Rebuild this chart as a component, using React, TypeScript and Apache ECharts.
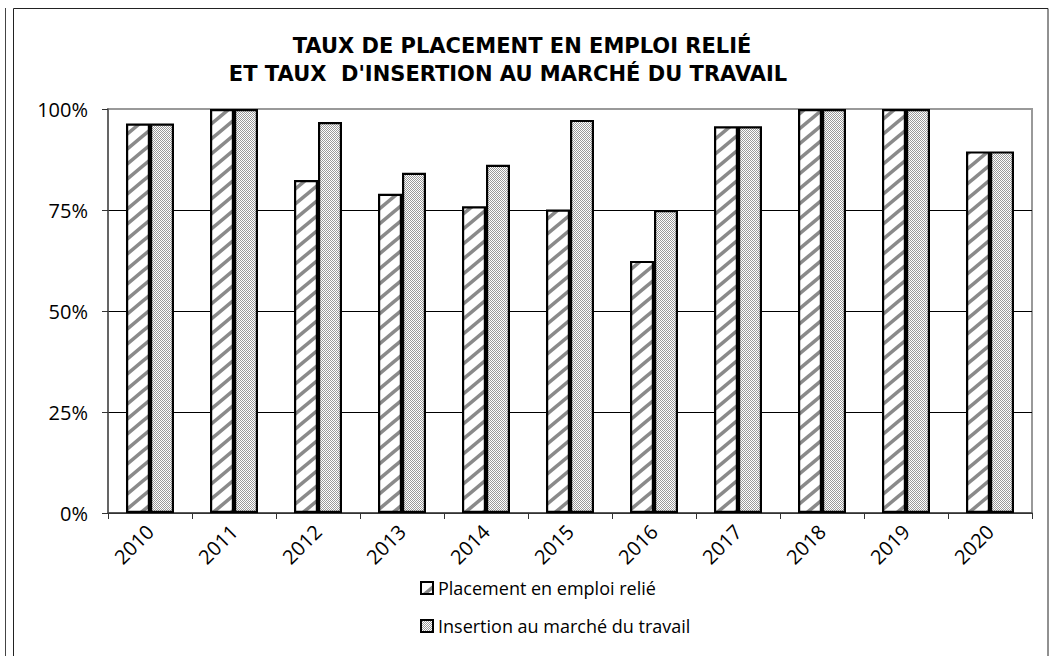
import React, { useEffect, useRef } from "react";
import * as echarts from "echarts";

const categories = ["2010", "2011", "2012", "2013", "2014", "2015", "2016", "2017", "2018", "2019", "2020"];
const placementValues = [96.4, 100, 82.4, 79.0, 75.9, 75.1, 62.4, 95.7, 100, 100, 89.5];
const insertionValues = [96.4, 100, 96.8, 84.2, 86.2, 97.3, 75.0, 95.7, 100, 100, 89.5];
const yTicks = [0, 25, 50, 75, 100];
const seriesNames = ["Placement en emploi relié", "Insertion au marché du travail"];
const titleLines = ["TAUX DE PLACEMENT EN EMPLOI RELIÉ", "ET TAUX  D'INSERTION AU MARCHÉ DU TRAVAIL"];

function makeStripeTile() {
  const W = 18;
  const H = 15;
  const c = document.createElement("canvas");
  c.width = W;
  c.height = H;
  const ctx = c.getContext("2d")!;
  ctx.fillStyle = "#ffffff";
  ctx.fillRect(0, 0, W, H);
  ctx.strokeStyle = "#8a8a8a";
  ctx.lineWidth = 3.6;
  for (let k = -1; k <= 1; k++) {
    const x0 = -6;
    const x1 = W + 6;
    ctx.beginPath();
    ctx.moveTo(x0, H - (H / W) * x0 + k * H);
    ctx.lineTo(x1, H - (H / W) * x1 + k * H);
    ctx.stroke();
  }
  return c;
}

function makeCheckerTile() {
  const c = document.createElement("canvas");
  c.width = 2;
  c.height = 2;
  const ctx = c.getContext("2d")!;
  ctx.fillStyle = "#ffffff";
  ctx.fillRect(0, 0, 2, 2);
  ctx.fillStyle = "#9a9a9a";
  ctx.fillRect(0, 0, 1, 1);
  ctx.fillRect(1, 1, 1, 1);
  return c;
}

export default function App() {
  const ref = useRef<HTMLDivElement>(null);
  useEffect(() => {
    if (!ref.current) return;
    const chart = echarts.init(ref.current, null, { renderer: "svg" });
    const stripe = makeStripeTile();
    const checker = makeCheckerTile();
    const font = "'Open Sans', sans-serif";
    const titleStyle = {
      fontFamily: "'DejaVu Sans', sans-serif",
      fontWeight: "bold",
      fontSize: 21,
      color: "#000",
    };
    chart.setOption({
      animation: false,
      backgroundColor: "#ffffff",
      title: [
        { text: titleLines[0], left: 517, textAlign: "center", top: 30, textStyle: titleStyle },
        { text: titleLines[1], left: 503, textAlign: "center", top: 58, textStyle: titleStyle },
      ],
      legend: {
        orient: "vertical",
        left: 415,
        top: 574,
        itemWidth: 12,
        itemHeight: 12,
        itemGap: 20,
        icon: "rect",
        textStyle: { fontFamily: font, fontSize: 18, color: "#000" },
        data: seriesNames,
      },
      grid: {
        left: 108,
        top: 109,
        right: 25,
        bottom: 143,
        show: true,
        borderColor: "#999",
        borderWidth: 2,
        backgroundColor: "transparent",
      },
      xAxis: {
        type: "category",
        data: categories,
        axisLine: { lineStyle: { color: "#444", width: 1.5 } },
        axisTick: { show: true, length: 6, interval: 0, lineStyle: { color: "#333" } },
        axisLabel: {
          interval: 0,
          rotate: 45,
          margin: 15,
          fontFamily: font,
          fontSize: 20,
          color: "#000",
        },
      },
      yAxis: {
        type: "value",
        min: yTicks[0],
        max: yTicks[yTicks.length - 1],
        interval: 25,
        axisLine: { show: true, lineStyle: { color: "#555", width: 1.5 } },
        axisTick: { show: true, length: 6, lineStyle: { color: "#333" } },
        axisLabel: {
          formatter: "{value}%",
          margin: 20,
          fontFamily: font,
          fontSize: 20,
          color: "#000",
        },
        splitLine: {
          show: true,
          lineStyle: { color: ["#000", "#000", "#000", "#000", "#999"], width: 1 },
        },
      },
      series: [
        {
          name: seriesNames[0],
          type: "bar",
          data: placementValues,
          barWidth: 24,
          barGap: "0%",
          itemStyle: {
            color: { image: stripe, repeat: "repeat", imageWidth: 18, imageHeight: 15 },
            borderColor: "#000",
            borderWidth: 2.2,
          },
        },
        {
          name: seriesNames[1],
          type: "bar",
          data: insertionValues,
          barWidth: 24,
          barGap: "0%",
          itemStyle: {
            color: { image: checker, repeat: "repeat", imageWidth: 2, imageHeight: 2 },
            borderColor: "#000",
            borderWidth: 2.2,
          },
        },
      ],
      graphic: [
        {
          type: "rect",
          shape: { x: 13.5, y: 8.5, width: 1034.5, height: 680 },
          style: { fill: "none", stroke: "#222", lineWidth: 1 },
          silent: true,
        },
        {
          type: "line",
          shape: { x1: 5.5, y1: 8, x2: 5.5, y2: 660 },
          style: { stroke: "#444", lineWidth: 1 },
          silent: true,
        },
      ],
    });
    return () => chart.dispose();
  }, []);
  return (
    <div
      ref={ref}
      style={{ position: "fixed", left: 0, top: 0, width: 1057, height: 656 }}
    />
  );
}
